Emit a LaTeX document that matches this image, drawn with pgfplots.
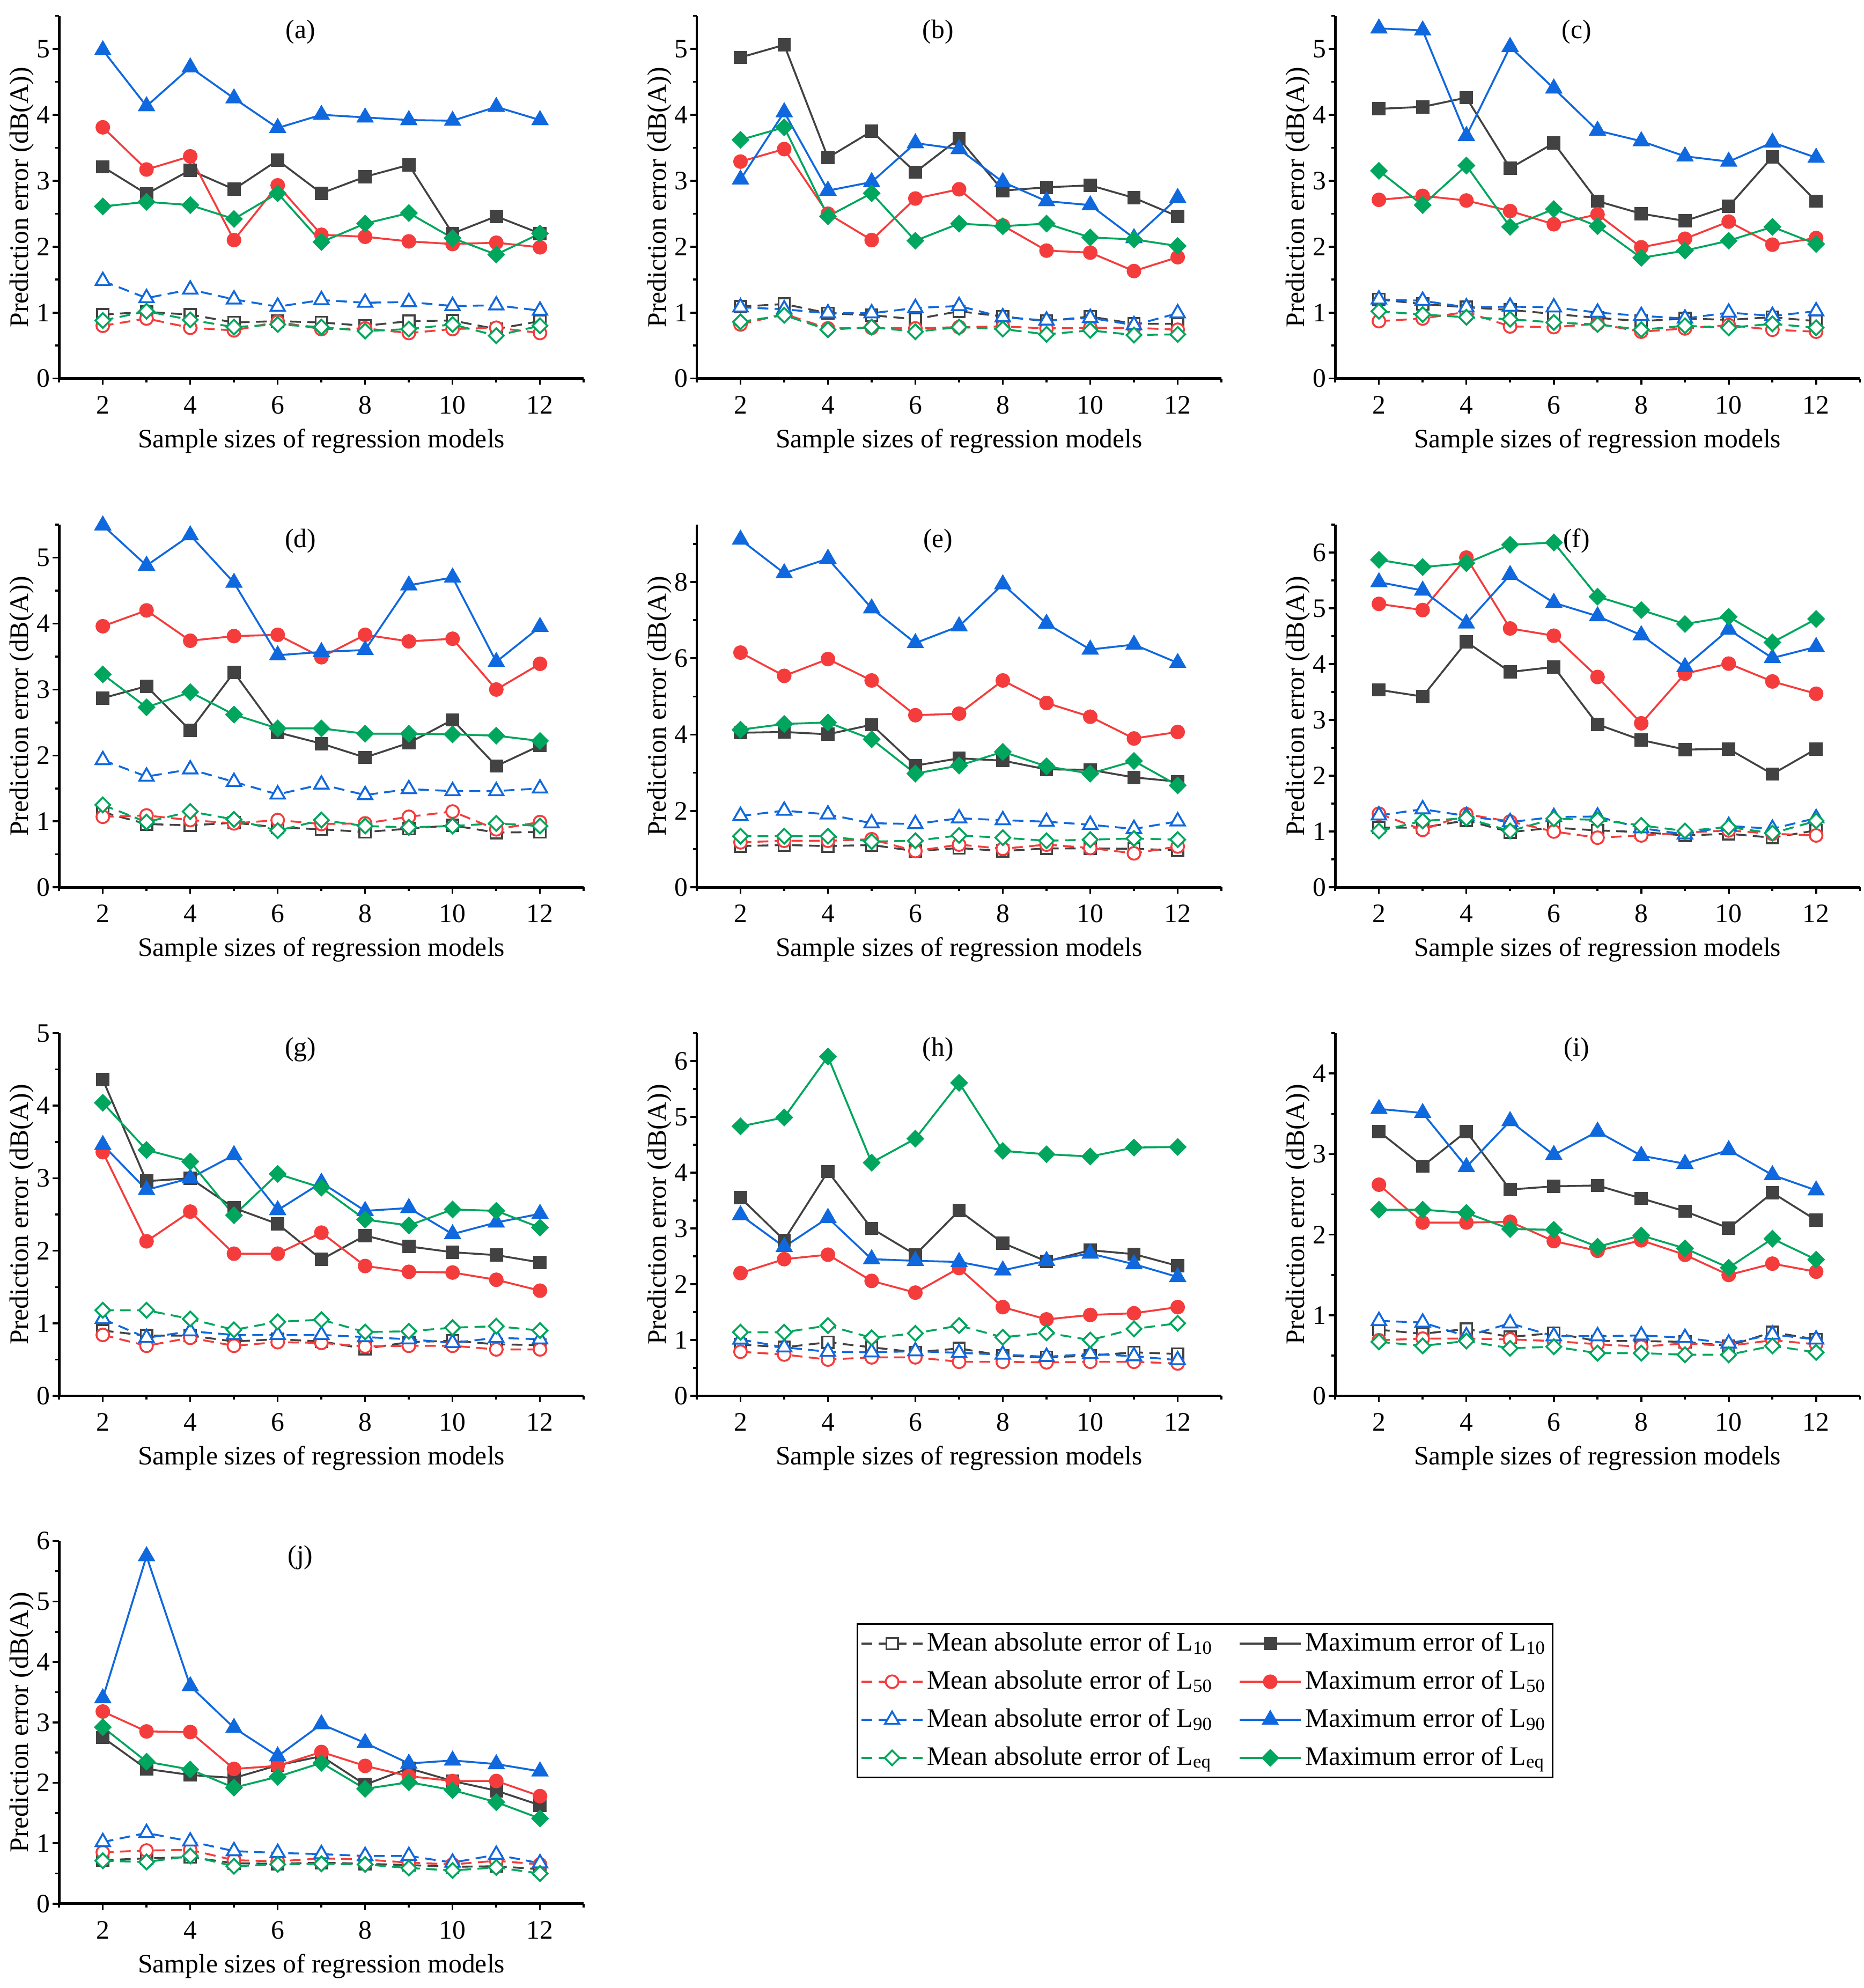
\documentclass[border=0pt]{standalone}
\usepackage{fontspec}
\setmainfont{Liberation Serif}
\usepackage{pgfplots}
\usepackage{pgfplotstable}
\pgfplotsset{compat=1.18}

\definecolor{cg}{RGB}{66,66,66}
\definecolor{cr}{RGB}{245,60,60}
\definecolor{cb}{RGB}{16,104,222}
\definecolor{cgr}{RGB}{0,166,93}

\newcommand\fs{\fontsize{8.4}{10}\selectfont}

\pgfplotsset{
  every axis title shift=0pt,
  panel/.style={
    scale only axis, width=165.5pt, height=114.4pt,
    xmin=1, xmax=13, ymin=0,
    axis lines*=left,
    axis line style={line width=0.8pt, black},
    xtick={2,4,...,12}, minor xtick={1,3,...,13},
    tick align=outside,
    major tick length=2pt, minor tick length=1.2pt,
    every tick/.style={black, line width=0.6pt},
    every minor tick/.style={black, line width=0.6pt},
    font=\fs,
    tick label style={font=\fs},
    yticklabel style={inner xsep=0.6pt},
    /pgf/number format/assume math mode=true,
    xlabel={Sample sizes of regression models},
    ylabel={Prediction error (dB(A))},
    xlabel style={at={(axis description cs:0.5,-0.172)}, anchor=center, font=\fs},
    ylabel style={at={(axis description cs:-0.071,0.5)}, anchor=center, font=\fs},
    every axis title shift=0pt,
    title style={at={(axis description cs:0.46,0.955)}, anchor=center, yshift=0pt, font=\fs},
    clip=false,
  },
  mTen/.style={color=cg, line width=0.6pt, dash pattern=on 3.4pt off 2pt, mark=square*, mark size=1.8pt, mark options={solid, fill=white}},
  xTen/.style={color=cg, line width=0.6pt, solid, mark=square*, mark size=1.8pt, mark options={solid}},
  mFifty/.style={color=cr, line width=0.6pt, dash pattern=on 3.4pt off 2pt, mark=*, mark size=2pt, mark options={solid, fill=white}},
  xFifty/.style={color=cr, line width=0.6pt, solid, mark=*, mark size=2pt, mark options={solid}},
  mNinety/.style={color=cb, line width=0.6pt, dash pattern=on 3.4pt off 2pt, mark=triangle*, mark size=2.6pt, mark options={solid, fill=white}},
  xNinety/.style={color=cb, line width=0.6pt, solid, mark=triangle*, mark size=2.6pt, mark options={solid}},
  mEq/.style={color=cgr, line width=0.6pt, dash pattern=on 3.4pt off 2pt, mark=square*, mark size=1.65pt, mark options={solid, fill=white, rotate=45}},
  xEq/.style={color=cgr, line width=0.6pt, solid, mark=square*, mark size=1.7pt, mark options={solid, rotate=45}},
  legend image code/.code={\draw[mark repeat=2,mark phase=2] plot coordinates {(0cm,0cm) (0.34cm,0cm) (0.68cm,0cm)};},
}

\newcommand\plotall[1]{%
  \addplot[mTen] table[x=x,y=m10]{#1};
  \addplot[xTen] table[x=x,y=x10]{#1};
  \addplot[mFifty] table[x=x,y=m50]{#1};
  \addplot[xFifty] table[x=x,y=x50]{#1};
  \addplot[mNinety] table[x=x,y=m90]{#1};
  \addplot[xNinety] table[x=x,y=x90]{#1};
  \addplot[mEq] table[x=x,y=meq]{#1};
  \addplot[xEq] table[x=x,y=xeq]{#1};
}

\pgfplotstableread{
x m10 m50 m90 meq x10 x50 x90 xeq
2 0.97 0.80 1.48 0.88 3.21 3.81 4.98 2.61
3 1.01 0.91 1.22 1.02 2.80 3.17 4.13 2.68
4 0.97 0.77 1.35 0.89 3.16 3.37 4.72 2.63
5 0.85 0.73 1.20 0.78 2.87 2.10 4.25 2.42
6 0.87 0.86 1.09 0.82 3.31 2.93 3.80 2.81
7 0.85 0.75 1.19 0.78 2.81 2.18 4.00 2.07
8 0.80 0.76 1.15 0.72 3.06 2.15 3.96 2.35
9 0.87 0.69 1.16 0.75 3.24 2.08 3.92 2.51
10 0.88 0.75 1.10 0.82 2.20 2.04 3.91 2.13
11 0.75 0.77 1.11 0.65 2.46 2.06 4.12 1.88
12 0.87 0.69 1.03 0.80 2.20 1.99 3.92 2.20
}\tA
\pgfplotstableread{
x m10 m50 m90 meq x10 x50 x90 xeq
2 1.09 0.82 1.08 0.86 4.87 3.29 3.02 3.62
3 1.13 0.98 1.05 0.96 5.06 3.48 4.04 3.81
4 0.99 0.76 0.99 0.74 3.35 2.50 2.85 2.46
5 0.96 0.77 0.99 0.78 3.75 2.10 2.98 2.81
6 0.90 0.76 1.07 0.71 3.13 2.73 3.57 2.09
7 1.02 0.78 1.10 0.78 3.64 2.87 3.48 2.35
8 0.94 0.79 0.93 0.75 2.85 2.32 2.98 2.31
9 0.87 0.76 0.88 0.67 2.90 1.94 2.69 2.35
10 0.94 0.77 0.92 0.73 2.93 1.91 2.63 2.14
11 0.83 0.77 0.81 0.66 2.74 1.63 2.13 2.11
12 0.83 0.74 0.99 0.67 2.46 1.84 2.74 2.01
}\tB
\pgfplotstableread{
x m10 m50 m90 meq x10 x50 x90 xeq
2 1.20 0.87 1.20 1.02 4.09 2.71 5.31 3.15
3 1.13 0.91 1.18 0.97 4.12 2.77 5.28 2.63
4 1.08 1.01 1.08 0.93 4.26 2.70 3.68 3.23
5 1.04 0.79 1.09 0.90 3.19 2.54 5.03 2.30
6 0.98 0.78 1.08 0.85 3.57 2.34 4.40 2.57
7 0.92 0.83 1.00 0.82 2.69 2.49 3.76 2.31
8 0.87 0.71 0.95 0.74 2.50 1.99 3.60 1.83
9 0.91 0.76 0.91 0.80 2.39 2.12 3.37 1.94
10 0.89 0.81 1.00 0.77 2.61 2.38 3.29 2.09
11 0.93 0.74 0.95 0.83 3.36 2.03 3.58 2.30
12 0.87 0.71 1.02 0.77 2.69 2.13 3.35 2.04
}\tC
\pgfplotstableread{
x m10 m50 m90 meq x10 x50 x90 xeq
2 1.14 1.07 1.93 1.25 2.87 3.96 5.49 3.23
3 0.96 1.09 1.68 0.99 3.05 4.20 4.88 2.73
4 0.94 1.02 1.79 1.15 2.38 3.74 5.34 2.96
5 0.98 0.97 1.60 1.03 3.26 3.81 4.62 2.62
6 0.91 1.02 1.41 0.86 2.35 3.83 3.52 2.41
7 0.88 0.96 1.56 1.02 2.18 3.49 3.57 2.41
8 0.84 0.97 1.40 0.93 1.97 3.83 3.60 2.33
9 0.89 1.07 1.49 0.91 2.19 3.73 4.58 2.33
10 0.94 1.15 1.46 0.93 2.54 3.77 4.70 2.32
11 0.83 0.88 1.46 0.97 1.84 3.00 3.42 2.30
12 0.84 0.99 1.50 0.93 2.15 3.39 3.95 2.22
}\tD
\pgfplotstableread{
x m10 m50 m90 meq x10 x50 x90 xeq
2 1.08 1.18 1.87 1.34 4.05 6.15 9.11 4.13
3 1.11 1.22 2.01 1.34 4.07 5.54 8.23 4.28
4 1.08 1.22 1.91 1.34 4.01 5.98 8.61 4.32
5 1.11 1.26 1.68 1.20 4.26 5.42 7.31 3.88
6 0.95 0.95 1.66 1.22 3.19 4.51 6.40 2.98
7 1.03 1.12 1.81 1.36 3.38 4.55 6.84 3.19
8 0.95 1.01 1.76 1.30 3.32 5.42 7.94 3.55
9 1.02 1.12 1.72 1.22 3.09 4.83 6.91 3.17
10 1.02 1.03 1.64 1.25 3.08 4.47 6.23 2.98
11 1.01 0.89 1.53 1.28 2.88 3.90 6.36 3.31
12 0.97 1.07 1.73 1.25 2.77 4.07 5.88 2.67
}\tE
\pgfplotstableread{
x m10 m50 m90 meq x10 x50 x90 xeq
2 1.07 1.32 1.29 1.01 3.54 5.08 5.47 5.87
3 1.07 1.03 1.40 1.19 3.42 4.97 5.32 5.74
4 1.20 1.31 1.28 1.24 4.40 5.91 4.73 5.81
5 0.99 1.18 1.17 1.01 3.86 4.64 5.60 6.14
6 1.07 1.00 1.26 1.23 3.95 4.51 5.10 6.18
7 1.02 0.89 1.27 1.21 2.92 3.77 4.86 5.21
8 0.99 0.93 1.06 1.11 2.64 2.94 4.52 4.97
9 0.93 0.98 0.95 1.01 2.47 3.83 3.95 4.72
10 0.96 1.02 1.10 1.08 2.48 4.01 4.62 4.85
11 0.89 0.96 1.05 0.97 2.03 3.69 4.11 4.39
12 1.02 0.93 1.24 1.19 2.48 3.47 4.31 4.81
}\tF
\pgfplotstableread{
x m10 m50 m90 meq x10 x50 x90 xeq
2 0.90 0.84 1.06 1.18 4.36 3.36 3.46 4.04
3 0.83 0.69 0.80 1.18 2.96 2.13 2.84 3.39
4 0.83 0.80 0.89 1.06 3.00 2.54 3.00 3.23
5 0.75 0.69 0.84 0.91 2.59 1.96 3.32 2.49
6 0.78 0.74 0.84 1.02 2.37 1.96 2.56 3.06
7 0.75 0.73 0.84 1.05 1.88 2.25 2.94 2.87
8 0.65 0.68 0.81 0.88 2.21 1.79 2.55 2.43
9 0.74 0.69 0.78 0.89 2.06 1.71 2.59 2.35
10 0.76 0.69 0.73 0.94 1.98 1.70 2.23 2.57
11 0.71 0.64 0.80 0.96 1.94 1.60 2.39 2.55
12 0.70 0.64 0.78 0.90 1.84 1.45 2.51 2.32
}\tG
\pgfplotstableread{
x m10 m50 m90 meq x10 x50 x90 xeq
2 0.92 0.79 1.01 1.14 3.55 2.20 3.24 4.83
3 0.87 0.74 0.87 1.14 2.79 2.45 2.67 4.99
4 0.96 0.65 0.79 1.26 4.02 2.53 3.19 6.08
5 0.87 0.69 0.78 1.04 3.00 2.06 2.45 4.18
6 0.78 0.69 0.80 1.12 2.53 1.85 2.42 4.61
7 0.85 0.61 0.77 1.26 3.32 2.29 2.40 5.61
8 0.72 0.61 0.74 1.05 2.74 1.59 2.25 4.39
9 0.69 0.60 0.70 1.13 2.41 1.37 2.42 4.33
10 0.72 0.61 0.75 1.00 2.61 1.45 2.55 4.29
11 0.78 0.61 0.71 1.20 2.54 1.48 2.36 4.45
12 0.75 0.58 0.64 1.30 2.33 1.59 2.13 4.46
}\tH
\pgfplotstableread{
x m10 m50 m90 meq x10 x50 x90 xeq
2 0.82 0.69 0.93 0.67 3.28 2.62 3.56 2.31
3 0.77 0.71 0.91 0.62 2.85 2.15 3.51 2.31
4 0.83 0.71 0.74 0.68 3.28 2.15 2.84 2.27
5 0.73 0.70 0.90 0.59 2.56 2.16 3.41 2.07
6 0.78 0.68 0.74 0.61 2.60 1.92 2.99 2.06
7 0.68 0.64 0.74 0.53 2.61 1.80 3.28 1.85
8 0.68 0.61 0.75 0.53 2.45 1.93 2.98 1.99
9 0.67 0.65 0.72 0.51 2.29 1.75 2.88 1.83
10 0.62 0.62 0.65 0.51 2.08 1.50 3.05 1.59
11 0.79 0.69 0.76 0.62 2.52 1.64 2.74 1.95
12 0.70 0.64 0.70 0.54 2.18 1.54 2.55 1.69
}\tI
\pgfplotstableread{
x m10 m50 m90 meq x10 x50 x90 xeq
2 0.72 0.85 1.02 0.71 2.75 3.18 3.40 2.92
3 0.75 0.88 1.17 0.69 2.23 2.85 5.75 2.35
4 0.77 0.89 1.03 0.79 2.13 2.84 3.60 2.22
5 0.67 0.72 0.87 0.62 2.08 2.23 2.91 1.92
6 0.66 0.70 0.84 0.65 2.29 2.28 2.44 2.10
7 0.68 0.75 0.82 0.66 2.44 2.51 2.97 2.33
8 0.66 0.73 0.79 0.65 1.97 2.28 2.66 1.90
9 0.64 0.68 0.79 0.59 2.24 2.11 2.32 2.01
10 0.61 0.65 0.68 0.55 2.03 2.03 2.37 1.88
11 0.62 0.71 0.81 0.60 1.87 2.03 2.31 1.68
12 0.57 0.65 0.67 0.50 1.63 1.78 2.19 1.41
}\tJ

\begin{document}
\begin{tikzpicture}
\useasboundingbox (0pt,0pt) rectangle (588pt,-627.1pt);

% row 1
\begin{axis}[panel, at={(18.64pt,-119.4pt)}, anchor=south west, title={(a)},
  ymax=5.5, ytick={0,1,...,5}, minor ytick={0.5,1.5,...,5.5}]
\plotall{\tA}
\end{axis}
\begin{axis}[panel, at={(219.8pt,-119.4pt)}, anchor=south west, title={(b)},
  ymax=5.5, ytick={0,1,...,5}, minor ytick={0.5,1.5,...,5.5}]
\plotall{\tB}
\end{axis}
\begin{axis}[panel, at={(421.2pt,-119.4pt)}, anchor=south west, title={(c)},
  ymax=5.5, ytick={0,1,...,5}, minor ytick={0.5,1.5,...,5.5}]
\plotall{\tC}
\end{axis}

% row 2
\begin{axis}[panel, at={(18.64pt,-279.9pt)}, anchor=south west, title={(d)},
  ymax=5.5, ytick={0,1,...,5}, minor ytick={0.5,1.5,...,5.5}]
\plotall{\tD}
\end{axis}
\begin{axis}[panel, at={(219.8pt,-279.9pt)}, anchor=south west, title={(e)},
  ymax=9.5, ytick={0,2,...,8}, minor ytick={1,3,...,9}]
\plotall{\tE}
\end{axis}
\begin{axis}[panel, at={(421.2pt,-279.9pt)}, anchor=south west, title={(f)},
  ymax=6.5, ytick={0,1,...,6}, minor ytick={0.5,1.5,...,6.5}]
\plotall{\tF}
\end{axis}

% row 3
\begin{axis}[panel, at={(18.64pt,-440.3pt)}, anchor=south west, title={(g)},
  ymax=5, ytick={0,1,...,5}, minor ytick={0.5,1.5,...,4.5}]
\plotall{\tG}
\end{axis}
\begin{axis}[panel, at={(219.8pt,-440.3pt)}, anchor=south west, title={(h)},
  ymax=6.5, ytick={0,1,...,6}, minor ytick={0.5,1.5,...,6.5}]
\plotall{\tH}
\end{axis}
\begin{axis}[panel, at={(421.2pt,-440.3pt)}, anchor=south west, title={(i)},
  ymax=4.5, ytick={0,1,...,4}, minor ytick={0.5,1.5,...,4.5}]
\plotall{\tI}
\end{axis}

% row 4
\begin{axis}[panel, at={(18.64pt,-600.5pt)}, anchor=south west, title={(j)},
  ymax=6, ytick={0,1,...,6}, minor ytick={0.5,1.5,...,5.5},
  legend columns=2, legend cell align=left,
  legend style={at={(axis description cs:1.52,0.7736)}, anchor=north west,
    draw=black, line width=0.5pt, inner xsep=1pt, inner ysep=1.5pt,
    row sep=2.6pt, nodes={inner sep=1pt}, font=\fs,
    /tikz/every even column/.append style={column sep=7pt}}]
\plotall{\tJ}
\legend{Mean absolute error of L\textsubscript{10}, Maximum error of L\textsubscript{10},
        Mean absolute error of L\textsubscript{50}, Maximum error of L\textsubscript{50},
        Mean absolute error of L\textsubscript{90}, Maximum error of L\textsubscript{90},
        Mean absolute error of L\textsubscript{eq}, Maximum error of L\textsubscript{eq}}
\end{axis}
\end{tikzpicture}
\end{document}
